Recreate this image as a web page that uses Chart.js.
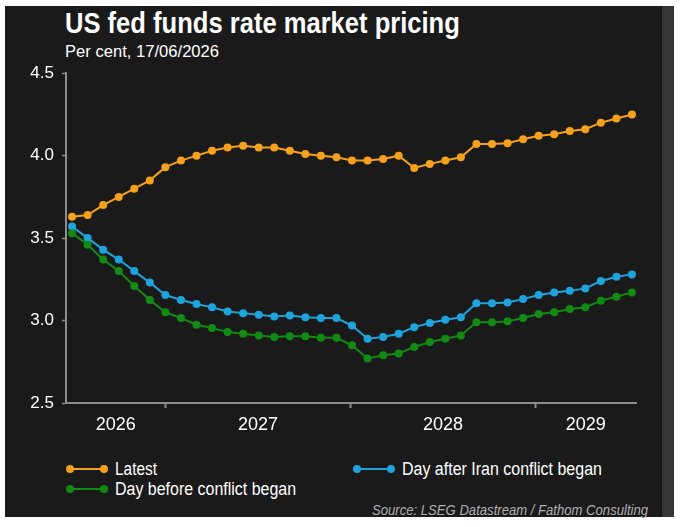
<!DOCTYPE html>
<html>
<head>
<meta charset="utf-8">
<script src="https://cdn.jsdelivr.net/npm/chart.js@4.4.1/dist/chart.umd.min.js"></script>
<style>
  html, body { margin: 0; padding: 0; background: #ffffff; }
  body { width: 680px; height: 527px; position: relative; overflow: hidden; }
  #panel { position: absolute; left: 5px; top: 6px; width: 656px; height: 511px; background: #1a1a1a; }
  #strip { position: absolute; left: 661px; top: 6px; width: 12px; height: 511px; background: #363636; border-left: 1px solid #111; }
  .narrow { font-family: 'Liberation Sans', Arial, sans-serif; color: #ffffff; position: absolute; white-space: nowrap; transform-origin: 0 50%; }
  #title { left: 65px; top: 6px; font-size: 30px; font-weight: bold; }
  #subtitle { left: 65px; top: 42px; font-size: 17px; }
  #chartBox { position: absolute; left: 0; top: 55px; width: 660px; height: 393px; }
  .legItem { position: absolute; height: 20px; display: flex; align-items: center; }
  .mk { position: relative; width: 38px; height: 2px; margin-right: 9px; flex: none; }
  .mk span { position: absolute; top: -3px; width: 8px; height: 8px; border-radius: 50%; }
  .legText { position: relative; font-size: 18px; white-space: nowrap; display: inline-block; transform-origin: 0 50%; }
  #source { left: 372px; top: 502px; font-size: 14px; font-style: italic; color: #b0b0b0; }
</style>
</head>
<body>
<div id="panel"></div>
<div id="strip"></div>
<div id="title" class="narrow" data-w="395">US fed funds rate market pricing</div>
<div id="subtitle" class="narrow" data-w="154">Per cent, 17/06/2026</div>
<div id="chartBox"><canvas id="rateChart"></canvas></div>
<div id="legend"></div>
<div id="source" class="narrow" data-w="276">Source: LSEG Datastream / Fathom Consulting</div>

<script>
// Monthly market-implied fed funds rate, Jul 2026 .. Jul 2029 (index 0..36)
const latest = [3.63, 3.64, 3.70, 3.75, 3.80, 3.85, 3.93, 3.97, 4.00, 4.03, 4.05, 4.06, 4.05,
                4.05, 4.03, 4.01, 4.00, 3.99, 3.97, 3.97, 3.98, 4.00, 3.925, 3.95, 3.97, 3.99,
                4.07, 4.07, 4.075, 4.10, 4.12, 4.13, 4.15, 4.16, 4.20, 4.225, 4.25];
const dayAfter = [3.57, 3.50, 3.43, 3.37, 3.30, 3.23, 3.155, 3.125, 3.10, 3.08, 3.055, 3.045, 3.035,
                  3.025, 3.03, 3.02, 3.015, 3.015, 2.97, 2.89, 2.90, 2.92, 2.96, 2.985, 3.005, 3.02,
                  3.105, 3.105, 3.11, 3.13, 3.155, 3.17, 3.18, 3.195, 3.24, 3.265, 3.28];
const dayBefore = [3.53, 3.46, 3.37, 3.30, 3.21, 3.125, 3.05, 3.015, 2.975, 2.955, 2.93, 2.92, 2.91,
                   2.90, 2.905, 2.905, 2.895, 2.895, 2.85, 2.77, 2.79, 2.80, 2.84, 2.87, 2.89, 2.91,
                   2.99, 2.99, 2.995, 3.015, 3.04, 3.05, 3.07, 3.08, 3.12, 3.145, 3.17];

const seriesNames = ['Latest', 'Day after Iran conflict began', 'Day before conflict began'];
const seriesColors = ['#f5a11c', '#1ea3dc', '#138a13'];

const yearLabels = ['2026', '2027', '2028', '2029'];
const yearBoundaries = [6.0, 17.9, 29.8];   // tick marks between years (in month index units)
const yTicks = [2.5, 3.0, 3.5, 4.0, 4.5];

const xMin = -0.39, xMax = 36.26;

function toPoints(arr) {
    return arr.map((v, i) => ({ x: i, y: v }));
}

// year label positions sit midway between the boundaries
const edges = [xMin].concat(yearBoundaries, [xMax]);
const yearCentres = yearLabels.map((_, i) => (edges[i] + edges[i + 1]) / 2);

document.addEventListener('DOMContentLoaded', function() {
    createRateChart();
    buildLegend();
    fitTexts();
});

function createRateChart() {
    const ctx = document.getElementById('rateChart');
    const seriesData = [latest, dayAfter, dayBefore];

    new Chart(ctx, {
        type: 'line',
        data: {
            datasets: seriesData.map((arr, i) => ({
                label: seriesNames[i],
                data: toPoints(arr),
                borderColor: seriesColors[i],
                backgroundColor: seriesColors[i],
                borderWidth: 2,
                pointRadius: 4,
                pointHoverRadius: 4,
                pointBorderWidth: 0,
                tension: 0,
                fill: false
            })).reverse()
        },
        options: {
            responsive: true,
            maintainAspectRatio: false,
            animation: false,
            layout: { padding: { top: 11, right: 24, left: 0, bottom: 0 } },
            scales: {
                x: {
                    type: 'linear',
                    min: xMin,
                    max: xMax,
                    afterBuildTicks: function(scale) {
                        const vals = yearBoundaries.concat(yearCentres).sort((a, b) => a - b);
                        scale.ticks = vals.map(v => ({ value: v }));
                    },
                    afterFit: function(scale) { scale.height = 45; },
                    border: { display: true, color: '#8c8c8c', width: 2 },
                    grid: {
                        drawOnChartArea: false,
                        drawTicks: true,
                        tickLength: 5,
                        tickWidth: 2,
                        tickColor: function(context) {
                            const v = context.tick ? context.tick.value : null;
                            return yearBoundaries.includes(v) ? '#8c8c8c' : 'rgba(0,0,0,0)';
                        }
                    },
                    ticks: {
                        autoSkip: false,
                        maxRotation: 0,
                        padding: 6,
                        color: '#ffffff',
                        font: { family: "'Liberation Sans', Arial, sans-serif", size: 18 },
                        callback: function(value) {
                            const idx = yearCentres.indexOf(value);
                            return idx >= 0 ? yearLabels[idx] : '';
                        }
                    }
                },
                y: {
                    min: 2.5,
                    max: 4.5,
                    afterBuildTicks: function(scale) {
                        scale.ticks = yTicks.map(v => ({ value: v }));
                    },
                    afterFit: function(scale) { scale.width = 66; },
                    border: { display: true, color: '#8c8c8c', width: 2 },
                    grid: {
                        drawOnChartArea: false,
                        drawTicks: true,
                        tickLength: 4,
                        tickWidth: 1.5,
                        tickColor: '#8c8c8c'
                    },
                    ticks: {
                        padding: 8,
                        color: '#ffffff',
                        font: { family: "'Liberation Sans', Arial, sans-serif", size: 17 },
                        callback: function(value) { return value.toFixed(1); }
                    }
                }
            },
            plugins: {
                legend: { display: false },
                tooltip: { enabled: false }
            }
        }
    });
}

// HTML legend laid out in two columns like the original
function buildLegend() {
    const spots = [
        { left: 68, top: 459, w: 42 },
        { left: 355, top: 459, w: 200 },
        { left: 68, top: 479, w: 181 }
    ];
    const box = document.getElementById('legend');
    seriesNames.forEach((name, i) => {
        const item = document.createElement('div');
        item.className = 'legItem';
        item.style.left = spots[i].left + 'px';
        item.style.top = spots[i].top + 'px';
        const mk = document.createElement('div');
        mk.className = 'mk';
        mk.style.background = seriesColors[i];
        const d1 = document.createElement('span');
        d1.style.left = '-2px';
        d1.style.background = seriesColors[i];
        const d2 = document.createElement('span');
        d2.style.right = '-2px';
        d2.style.background = seriesColors[i];
        mk.appendChild(d1);
        mk.appendChild(d2);
        const txt = document.createElement('span');
        txt.className = 'legText narrow';
        txt.style.position = 'relative';
        txt.dataset.w = spots[i].w;
        txt.textContent = name;
        item.appendChild(mk);
        item.appendChild(txt);
        box.appendChild(item);
    });
}

// squeeze text horizontally to the condensed widths of the original
function fitTexts() {
    document.querySelectorAll('[data-w]').forEach(el => {
        const target = parseFloat(el.dataset.w);
        const w = el.getBoundingClientRect().width;
        if (w > 0) el.style.transform = 'scaleX(' + (target / w).toFixed(3) + ')';
    });
}
</script>
</body>
</html>
